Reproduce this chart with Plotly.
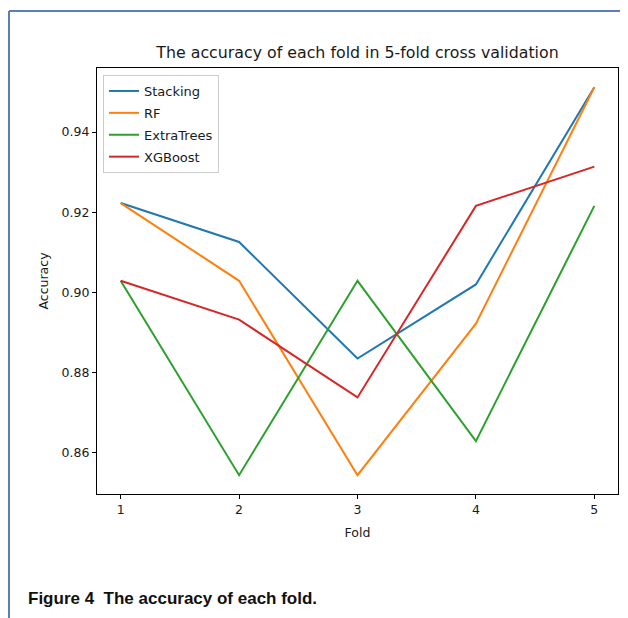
import plotly.graph_objects as go

folds = [1, 2, 3, 4, 5]
stacking = [0.9223, 0.9126, 0.8835, 0.9020, 0.9512]
rf = [0.9223, 0.9029, 0.8544, 0.8922, 0.9512]
extratrees = [0.9029, 0.8544, 0.9029, 0.8629, 0.9216]
xgboost = [0.9029, 0.8932, 0.8738, 0.9216, 0.9314]

series = [("Stacking", stacking, "#1f77b4"),
          ("RF", rf, "#ff7f0e"),
          ("ExtraTrees", extratrees, "#2ca02c"),
          ("XGBoost", xgboost, "#d62728")]

# the page body has an 8px margin, so work in window coords and shift
OFF = 8
W, H = 628 - OFF, 618 - OFF
L, R, T, B = 97, 618, 68, 494
pw, ph = R - L, B - T

def px(x):
    return (x - L) / pw

def py(y):
    return (B - y) / ph

fig = go.Figure()
for name, vals, col in series:
    fig.add_trace(go.Scatter(x=folds, y=vals, mode="lines", name=name,
                             legendgroup=name,
                             line=dict(color=col, width=2)))

font = "DejaVu Sans, sans-serif"
axis_common = dict(showline=True, linecolor="black", linewidth=1.2, mirror=True,
                   ticks="outside", ticklen=4, tickcolor="black", showgrid=False,
                   zeroline=False, tickfont=dict(family=font, size=12.5, color="#1a1a1a"))

fig.update_layout(
    width=W, height=H,
    margin=dict(l=L - OFF, r=628 - R, t=T - OFF, b=618 - B, pad=0),
    paper_bgcolor="white", plot_bgcolor="white",
    title=dict(text="The accuracy of each fold in 5-fold cross validation",
               x=0.5, xref="paper", y=1 - (52 - OFF) / H, yanchor="middle",
               font=dict(family=font, size=15.8, color="#1a1a1a")),
    xaxis=dict(range=[0.8, 5.2], tickvals=folds, ticktext=[str(f) for f in folds],
               title=dict(text="Fold", font=dict(family=font, size=12.5, color="#1a1a1a"), standoff=12),
               **axis_common),
    yaxis=dict(range=[0.8497, 0.9560], tickvals=[0.86, 0.88, 0.90, 0.92, 0.94],
               ticktext=["0.86", "0.88", "0.90", "0.92", "0.94"],
               title=dict(text="Accuracy", font=dict(family=font, size=12.5, color="#1a1a1a"), standoff=10),
               **axis_common),
    legend=dict(x=px(103), y=py(75), xanchor="left", yanchor="top",
                bgcolor="rgba(255,255,255,0.8)", bordercolor="#cccccc", borderwidth=1,
                font=dict(family=font, size=13, color="#1a1a1a"),
                traceorder="grouped", tracegroupgap=2, itemwidth=30),
    showlegend=True,
)

border = "#5b7fb5"
fig.add_shape(type="line", xref="paper", yref="paper",
              x0=px(9), x1=px(640), y0=py(11), y1=py(11),
              line=dict(color=border, width=2))
fig.add_shape(type="line", xref="paper", yref="paper",
              x0=px(9), x1=px(9), y0=py(11), y1=py(640),
              line=dict(color=border, width=2))

fig.add_annotation(text="<b>Figure 4  The accuracy of each fold.</b>",
                   xref="paper", yref="paper", x=px(26), y=py(598),
                   xanchor="left", yanchor="middle", showarrow=False,
                   font=dict(family="Liberation Sans, Arial, sans-serif", size=17, color="#111"))

fig.write_html("out.html")
